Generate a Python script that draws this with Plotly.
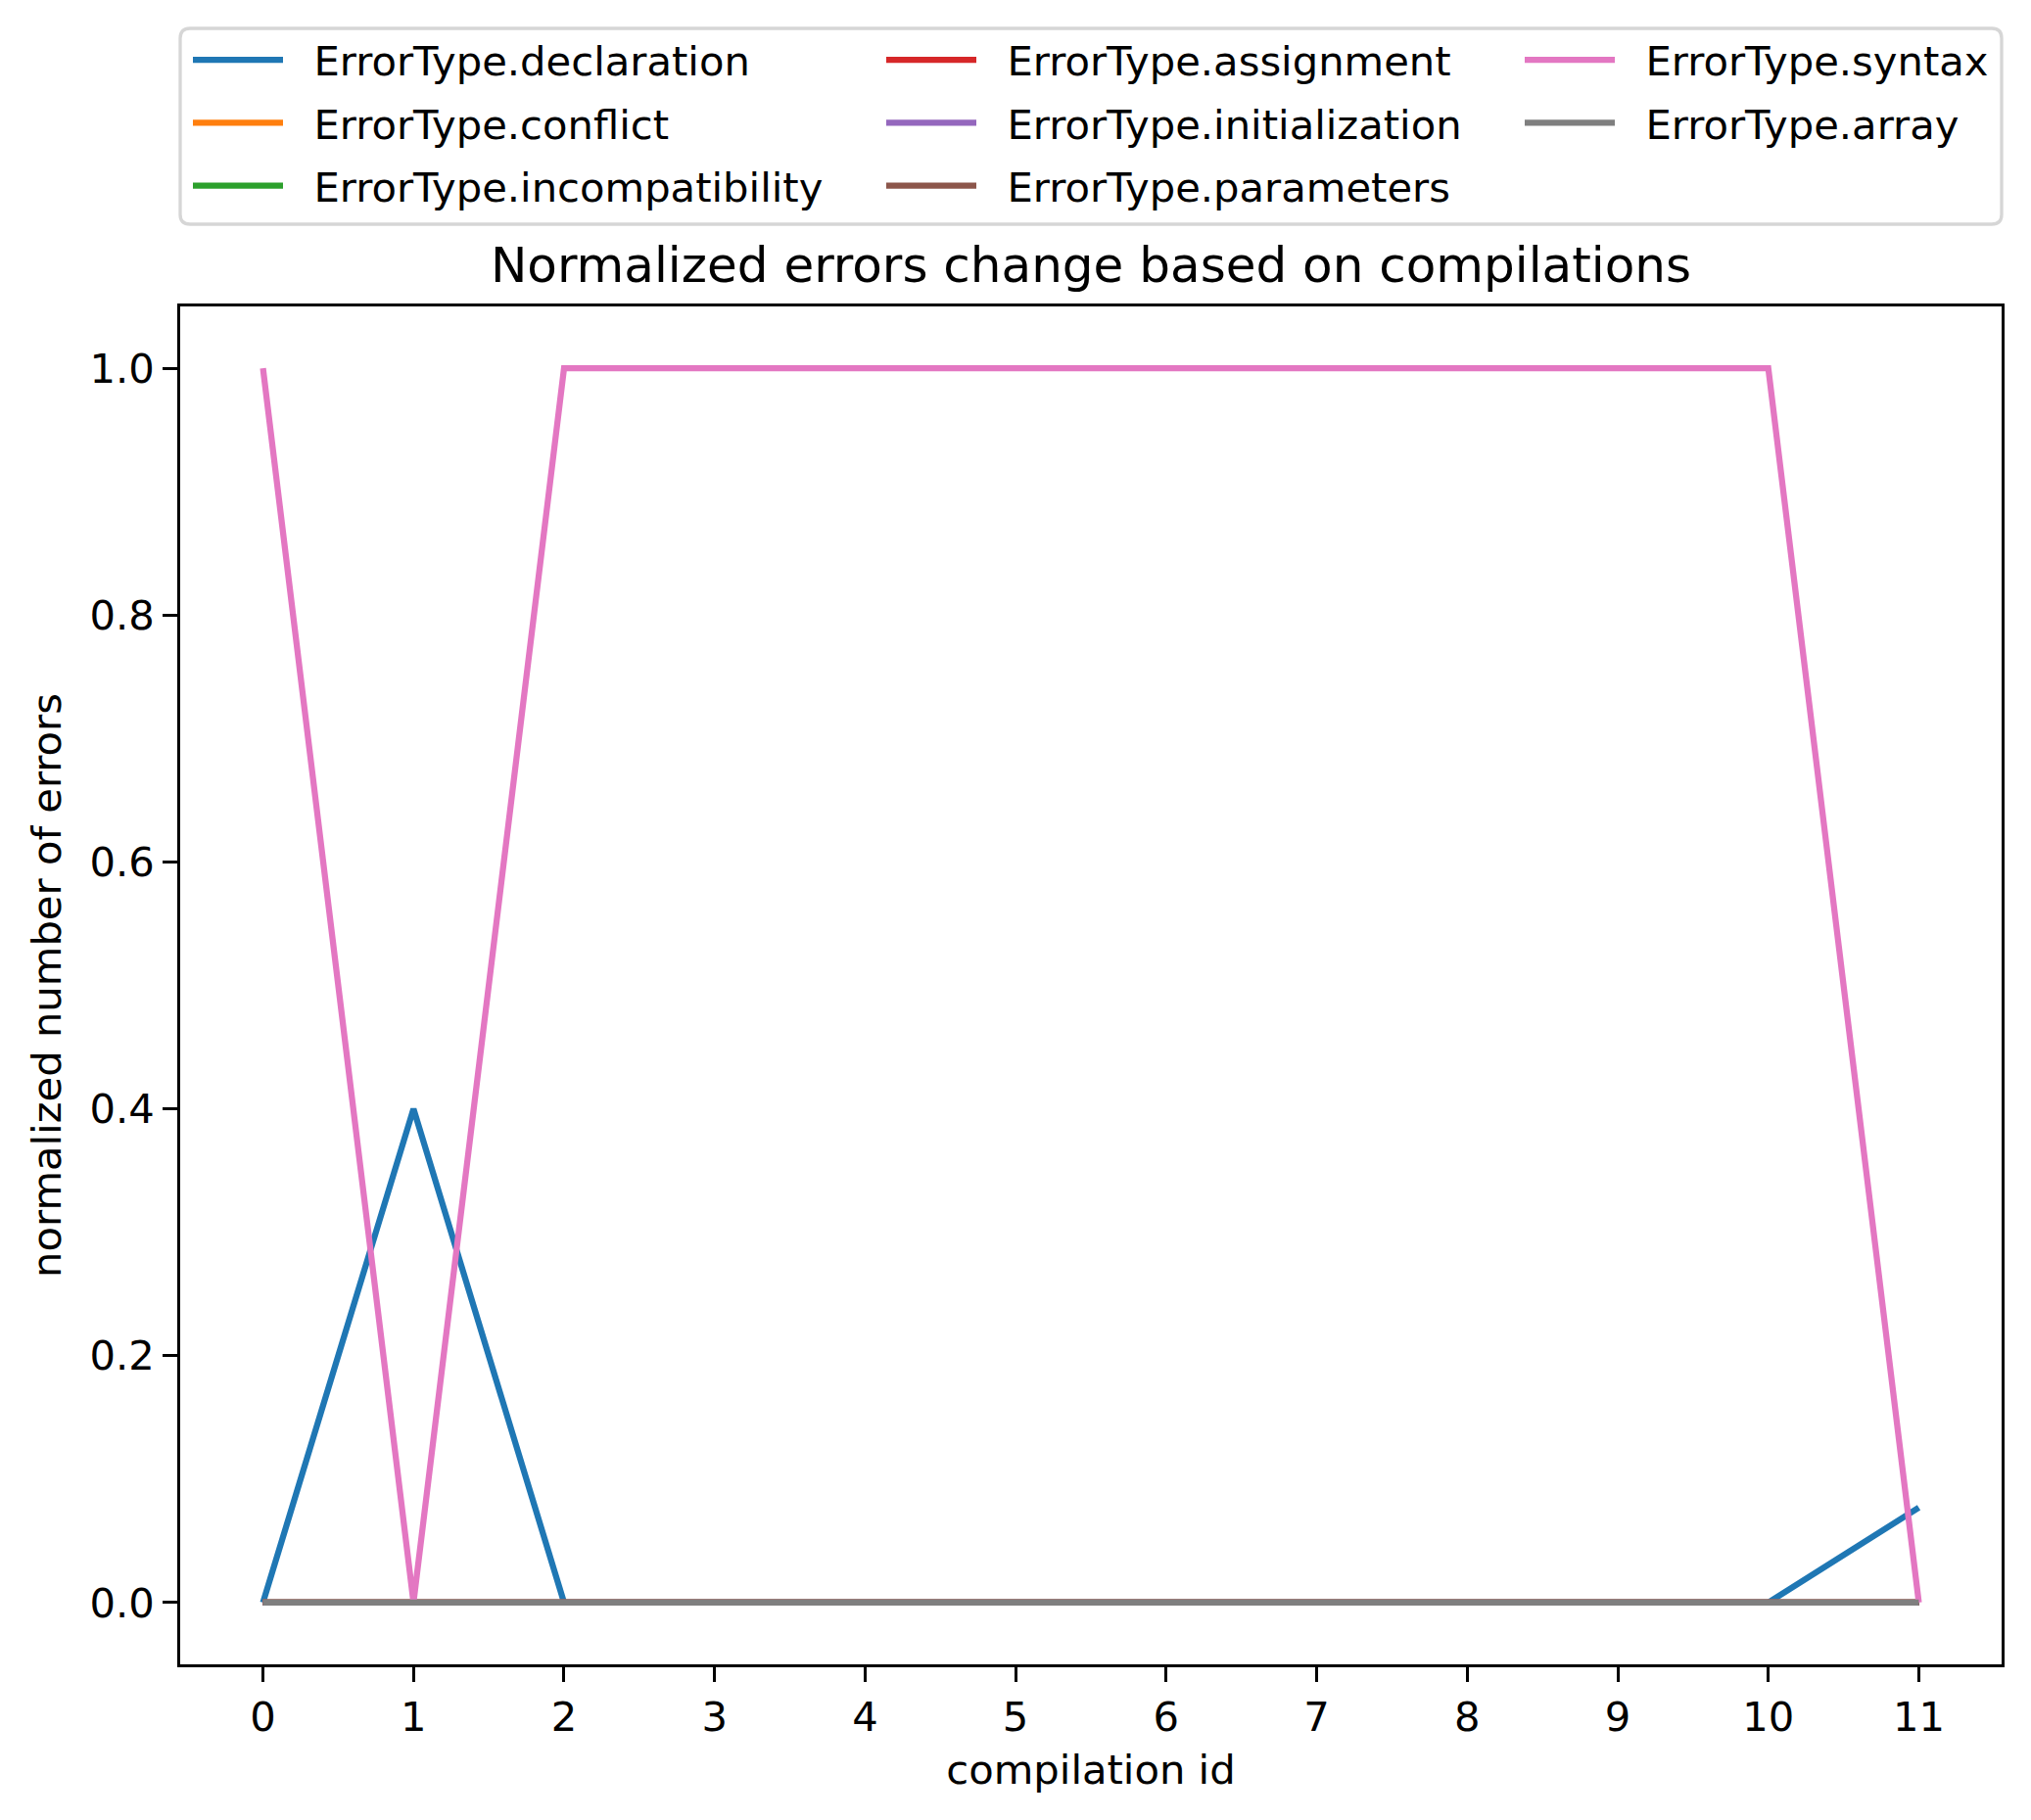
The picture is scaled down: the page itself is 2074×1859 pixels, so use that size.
import plotly.graph_objects as go

# compilation ids and normalized error counts per error type
compilation_ids = list(range(12))
error_types = [
    "ErrorType.declaration",
    "ErrorType.conflict",
    "ErrorType.incompatibility",
    "ErrorType.assignment",
    "ErrorType.initialization",
    "ErrorType.parameters",
    "ErrorType.syntax",
    "ErrorType.array",
]
declaration = [0, 0.4, 0, 0, 0, 0, 0, 0, 0, 0, 0, 0.077]
conflict = [0, 0, 0, 0, 0, 0, 0, 0, 0, 0, 0, 0]
incompatibility = [0, 0, 0, 0, 0, 0, 0, 0, 0, 0, 0, 0]
assignment = [0, 0, 0, 0, 0, 0, 0, 0, 0, 0, 0, 0]
initialization = [0, 0, 0, 0, 0, 0, 0, 0, 0, 0, 0, 0]
parameters = [0, 0, 0, 0, 0, 0, 0, 0, 0, 0, 0, 0]
syntax = [1, 0, 1, 1, 1, 1, 1, 1, 1, 1, 1, 0]
array = [0, 0, 0, 0, 0, 0, 0, 0, 0, 0, 0, 0]

series = [declaration, conflict, incompatibility, assignment,
          initialization, parameters, syntax, array]
colors = ["#1f77b4", "#ff7f0e", "#2ca02c", "#d62728",
          "#9467bd", "#8c564b", "#e377c2", "#7f7f7f"]
# matplotlib ncol=3 fills column by column
legend_ids = ["legend", "legend", "legend", "legend2",
              "legend2", "legend2", "legend3", "legend3"]

W, H = 2074, 1859
ML, MR, MT, MB = 184, 30, 313, 159
PW, PH = W - ML - MR, H - MT - MB
FONT = "DejaVu Sans"
fs = 41.7
pad = "\u00a0\u00a0"  # gap between legend line and label


def px_x(p):
    return (p - ML) / PW


def px_y(p):
    return (H - MB - p) / PH


fig = go.Figure()
for name, ys, col, lg in zip(error_types, series, colors, legend_ids):
    fig.add_trace(go.Scatter(
        x=compilation_ids, y=ys, mode="lines", name=pad + name,
        line=dict(color=col, width=6.25), legend=lg, legendgroup=name,
    ))

axis_common = dict(
    showline=True, mirror=True, linecolor="black", linewidth=3.3,
    ticks="outside", ticklen=14.6, tickwidth=3.3, tickcolor="black",
    showgrid=False, zeroline=False,
    tickfont=dict(family=FONT, size=fs, color="black"),
)

leg_common = dict(
    font=dict(family=FONT, size=fs, color="black"),
    bgcolor="rgba(0,0,0,0)", borderwidth=0,
    yanchor="top", y=px_y(27.5), xanchor="left",
    itemwidth=92, tracegroupgap=7,
)

fig.update_layout(
    width=W, height=H,
    margin=dict(l=ML, r=MR, t=MT, b=MB),
    paper_bgcolor="white", plot_bgcolor="white",
    font=dict(family=FONT, size=fs, color="black"),
    title=dict(text="Normalized errors change based on compilations",
               font=dict(family=FONT, size=50, color="black"),
               xref="paper", x=0.5, xanchor="center",
               yref="container", y=1 - 270 / H, yanchor="middle"),
    xaxis=dict(range=[-0.55, 11.55], tickmode="array",
               tickvals=compilation_ids,
               ticktext=[str(i) for i in compilation_ids],
               title=dict(text="compilation id", standoff=17,
                          font=dict(family=FONT, size=fs)),
               **axis_common),
    yaxis=dict(range=[-0.05, 1.05], tick0=0, dtick=0.2, tickformat=".1f",
               title=dict(text="normalized number of errors", standoff=17,
                          font=dict(family=FONT, size=fs)),
               **axis_common),
    legend=dict(x=px_x(192), **leg_common),
    legend2=dict(x=px_x(900), **leg_common),
    legend3=dict(x=px_x(1552), **leg_common),
    showlegend=True,
)

# outer legend frame with rounded corners
x0, x1, y0, y1 = px_x(184), px_x(2044), px_y(229), px_y(29)
rx, ry = 10 / PW, 10 / PH
frame = (f"M{x0 + rx},{y1} L{x1 - rx},{y1} Q{x1},{y1} {x1},{y1 - ry} "
         f"L{x1},{y0 + ry} Q{x1},{y0} {x1 - rx},{y0} "
         f"L{x0 + rx},{y0} Q{x0},{y0} {x0},{y0 + ry} "
         f"L{x0},{y1 - ry} Q{x0},{y1} {x0 + rx},{y1} Z")
fig.add_shape(type="path", xref="paper", yref="paper", path=frame,
              line=dict(color="#d6d6d6", width=3.3),
              fillcolor="rgba(255,255,255,0.8)", layer="below")

fig.write_html("out.html", config={"displayModeBar": False},
               post_script="document.body.style.margin='0px';")
